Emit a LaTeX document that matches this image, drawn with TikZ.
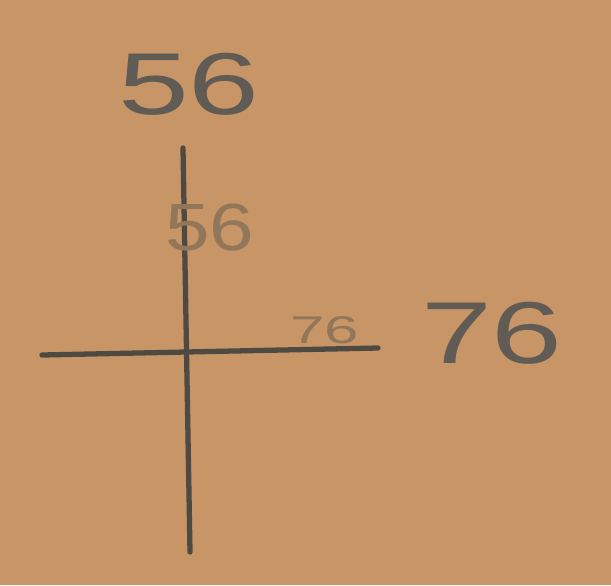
\documentclass[tikz,border=0pt]{standalone}
\usepackage{fontspec}
\setmainfont{Liberation Sans}
\definecolor{paper}{RGB}{200,149,102}
\definecolor{pencil}{RGB}{78,74,66}
\definecolor{faint}{RGB}{145,118,90}
\tikzset{
  axis/.style={draw=pencil, line width=3pt, line cap=round},
  biglabel/.style={text=pencil!90, font=\fontsize{50}{50}\selectfont, xscale=1.45, inner sep=0pt},
  smalllabel/.style={text=faint, inner sep=0pt}
}
\begin{document}
\begin{tikzpicture}[x=0.02cm, y=-0.02cm]
  \fill[paper] (0,0) rectangle (611,585);
  \useasboundingbox (0,0) rectangle (611,585);
  \coordinate (top) at (183,148);
  \coordinate (bottom) at (190,552);
  \coordinate (left) at (42,355);
  \coordinate (right) at (378,348);
  \draw[axis] (top) -- (bottom);
  \draw[axis] (left) -- (right);
  \node[biglabel] (ylabel) at (189,84) {56};
  \node[biglabel] (xlabel) at (492,333) {76};
  \node[smalllabel, font=\fontsize{38}{38}\selectfont, xscale=1.2] (ysmall) at (210,228) {56};
  \node[smalllabel, font=\fontsize{22}{22}\selectfont, xscale=1.6] (xsmall) at (325,330) {76};
\end{tikzpicture}
\end{document}
